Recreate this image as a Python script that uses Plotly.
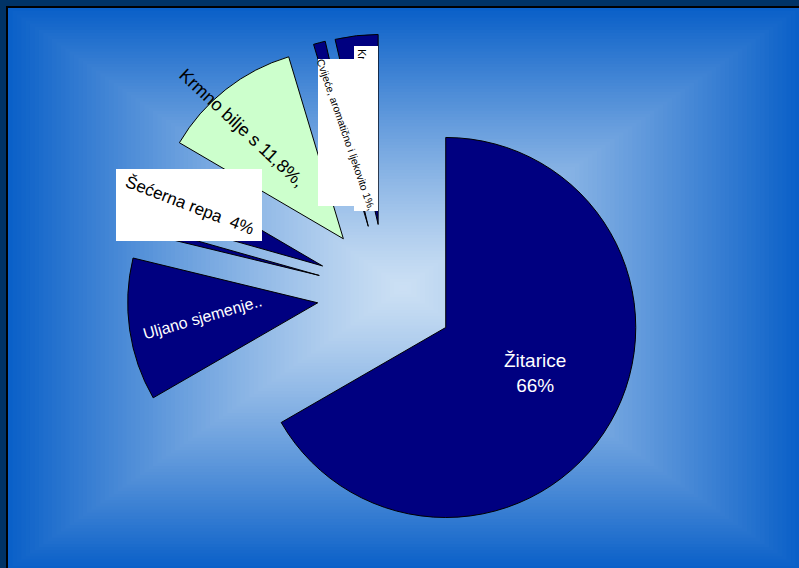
import plotly.graph_objects as go

# Share of arable land by crop group (%), clockwise from 12 o'clock
categories = [
    "Žitarice",
    "Uljano sjemenje",
    "Povrće",
    "Šećerna repa",
    "Krmno bilje",
    "Cvijeće, aromatično i ljekovito bilje",
    "Krumpir",
]
shares = [66, 12.0, 0.6, 4, 11.8, 1.0, 3.6]
slice_colors = ["#000080", "#000080", "#000080", "#000080", "#CCFFCC", "#000080", "#000080"]


def pct(v):
    return f"{v:g}".replace(".", ",") + "%"


W, H = 799, 568
FONT = "Arial, Liberation Sans, sans-serif"


def px(x):
    return x / W


def py(y):
    return 1 - y / H


def mix(c0, c1, t):
    return "rgb(%d,%d,%d)" % tuple(round(a + (b - a) * t) for a, b in zip(c0, c1))


# Slide background: navy frame, thin black rule, rectangular blue gradient
shapes = [
    dict(type="rect", xref="paper", yref="paper", layer="below",
         x0=px(6), x1=px(W + 2), y0=py(6), y1=py(H + 2),
         fillcolor="#000000", line=dict(width=0)),
]
edge = (10, 96, 200)
centre = (204, 224, 244)
cx, cy = 403, 288
left, top, right, bottom = 8, 8, W + 1, H + 1
steps = 90
for i in range(steps):
    t = i / steps
    shade = 1 - (1 - t) ** 1.2
    shapes.append(dict(
        type="rect", xref="paper", yref="paper", layer="below",
        x0=px(left + t * (cx - left)), x1=px(right - t * (right - cx)),
        y0=py(top + t * (cy - top)), y1=py(bottom - t * (bottom - cy)),
        fillcolor=mix(edge, centre, shade), line=dict(width=0),
    ))

fig = go.Figure(go.Pie(
    labels=categories,
    values=shares,
    sort=False,
    direction="clockwise",
    rotation=0,
    pull=[0.363] * len(shares),
    marker=dict(colors=slice_colors, line=dict(color="#000000", width=1)),
    textinfo="none",
    hoverinfo="label+percent",
    domain=dict(x=[px(127), px(645)], y=[py(552), py(34)]),
))


def label(text, x, y, size, color, angle=0):
    return dict(text=text, x=px(x), y=py(y), xref="paper", yref="paper",
                showarrow=False, textangle=angle, xanchor="center", yanchor="middle",
                font=dict(family=FONT, size=size, color=color))


def box(x0, y0, x1, y1):
    return dict(text=" ", x=px(x0), y=py(y0), xref="paper", yref="paper",
                showarrow=False, xanchor="left", yanchor="top",
                width=x1 - x0, height=y1 - y0, bgcolor="#FFFFFF",
                borderpad=0, borderwidth=0)


annotations = [
    label(f"{categories[0]}<br>{pct(shares[0])}", 535, 373, 19, "#FFFFFF"),
    label(f"{categories[1]}..", 202, 317, 16, "#FFFFFF", -16),
    label(f"{categories[4]} s {pct(shares[4])},", 242, 128, 18, "#000000", 43),
    box(116, 169, 262, 241),
    label(f"Šećerna repa  {pct(shares[3])}", 190, 205, 17, "#000000", 21),
    box(354, 46, 378, 211),
    label(f"{categories[6]} {pct(shares[6])}", 362, 82, 11, "#000000", 90),
    box(318, 59, 368, 206),
    label(f"Cvijeće, aromatično i ljekovito {pct(shares[5])},", 346, 134, 10.5, "#000000", 71),
]

fig.update_layout(
    width=W, height=H,
    margin=dict(l=0, r=0, t=0, b=0),
    paper_bgcolor="#003366",
    plot_bgcolor="rgba(0,0,0,0)",
    showlegend=False,
    shapes=shapes,
    annotations=annotations,
)

fig.write_html("out.html", config={"displayModeBar": False})
